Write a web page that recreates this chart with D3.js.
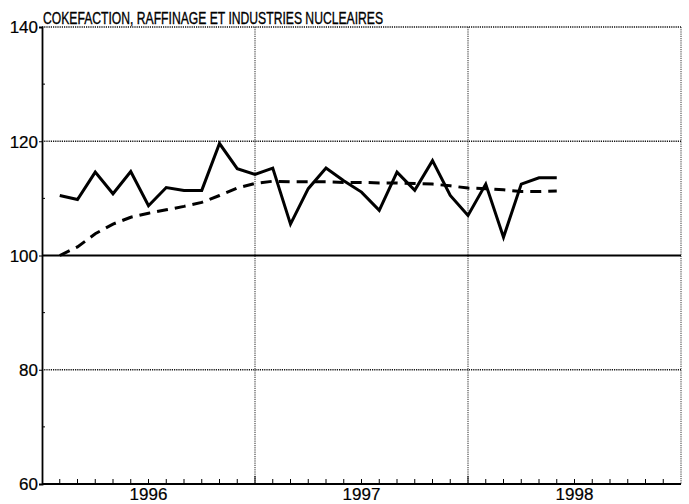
<!DOCTYPE html>
<html><head><meta charset="utf-8">
<script src="https://cdn.jsdelivr.net/npm/d3@7"></script>
<style>body{margin:0;background:#fff}svg{display:block}text{font-family:"Liberation Sans",Arial,sans-serif;fill:#000}</style>
</head><body><svg id="c" width="689" height="504"></svg>
<script>
const title = "COKEFACTION, RAFFINAGE ET INDUSTRIES NUCLEAIRES";
const yearLabels = ["1996", "1997", "1998"];
const yTicks = [60, 80, 100, 120, 140];
const yMinor = [70, 90, 110, 130];
// monthly index values, Jan 1996 = month 1
const actual = [110.5, 109.8, 114.6, 110.8, 114.7, 108.7, 111.9, 111.4, 111.4, 119.6, 115.2, 114.2,
                115.3, 105.5, 111.7, 115.3, 113.1, 111.1, 107.9, 114.6, 111.4, 116.6, 110.5, 107.0,
                112.5, 103.2, 112.5, 113.6, 113.6];
const trend = [100.0, 101.5, 103.8, 105.5, 106.7, 107.4, 108.0, 108.6, 109.3, 110.5, 111.8, 112.6,
               113.0, 112.9, 112.9, 112.9, 112.8, 112.8, 112.7, 112.7, 112.6, 112.5, 112.2, 111.8,
               111.7, 111.5, 111.2, 111.2, 111.3];

const svg = d3.select("#c");
const L = 42, R = 681, T = 27, B = 484;
const x = d3.scaleLinear().domain([0, 36]).range([L, R]);
const y = d3.scaleLinear().domain([60, 140]).range([B, T]);

// dotted grid / frame
const dot = "1.2,1";
svg.append("line").attr("x1", L).attr("x2", R).attr("y1", T).attr("y2", T)
  .attr("stroke", "#111").attr("stroke-width", 1.3).attr("stroke-dasharray", dot);
svg.append("line").attr("x1", R).attr("x2", R).attr("y1", T).attr("y2", B)
  .attr("stroke", "#333").attr("stroke-width", 1).attr("stroke-dasharray", dot);
svg.selectAll(".hg").data([80, 120]).join("line")
  .attr("x1", L).attr("x2", R).attr("y1", d => y(d)).attr("y2", d => y(d))
  .attr("stroke", "#111").attr("stroke-width", 1.3).attr("stroke-dasharray", dot);
svg.selectAll(".vg").data([12, 24]).join("line")
  .attr("x1", d => x(d)).attr("x2", d => x(d)).attr("y1", T).attr("y2", B)
  .attr("stroke", "#222").attr("stroke-width", 1).attr("stroke-dasharray", dot);
// 100 base line
svg.append("line").attr("x1", L).attr("x2", R).attr("y1", y(100)).attr("y2", y(100))
  .attr("stroke", "#000").attr("stroke-width", 1.8);

// left axis
const yAxis = d3.axisLeft(y).tickValues(yTicks).tickSize(3).tickPadding(1);
const ga = svg.append("g").attr("transform", `translate(${L},0)`).call(yAxis);
ga.select(".domain").attr("stroke-width", 1.8);
ga.selectAll("text").attr("font-size", 17).attr("dy", "0.35em")
  .attr("stroke", "#000").attr("stroke-width", 0.2);
svg.selectAll(".ym").data(yMinor).join("line")
  .attr("x1", L).attr("x2", L + 3).attr("y1", d => y(d)).attr("y2", d => y(d))
  .attr("stroke", "#000").attr("stroke-width", 1);

// bottom axis
svg.append("line").attr("x1", L).attr("x2", R).attr("y1", B).attr("y2", B)
  .attr("stroke", "#000").attr("stroke-width", 1.8);
svg.selectAll(".xt").data(d3.range(1, 36)).join("line")
  .attr("x1", d => x(d)).attr("x2", d => x(d)).attr("y1", B).attr("y2", d => d % 12 === 0 ? B - 8 : B - 5)
  .attr("stroke", "#000").attr("stroke-width", 1);
svg.selectAll(".yl").data(yearLabels).join("text")
  .attr("x", (d, i) => x(i * 12 + 6)).attr("y", 500).attr("text-anchor", "middle")
  .attr("font-size", 17).attr("stroke", "#000").attr("stroke-width", 0.2).text(d => d);

// title
svg.append("text").attr("x", 43).attr("y", 24).attr("font-size", 17)
  .attr("textLength", 340).attr("lengthAdjust", "spacingAndGlyphs")
  .attr("stroke", "#000").attr("stroke-width", 0.35).text(title);

// series
const line = d3.line().x((d, i) => x(i + 1)).y(d => y(d));
svg.append("path").datum(trend).attr("d", line).attr("fill", "none")
  .attr("stroke", "#000").attr("stroke-width", 3).attr("stroke-dasharray", "11,7");
svg.append("path").datum(actual).attr("d", line).attr("fill", "none")
  .attr("stroke", "#000").attr("stroke-width", 3).attr("stroke-linejoin", "miter");
</script></body></html>
